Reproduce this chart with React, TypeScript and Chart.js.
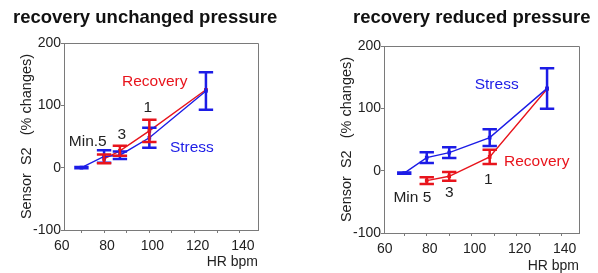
import React, { useEffect, useRef } from 'react';
import { Chart, registerables } from 'chart.js';

Chart.register(...registerables);

const FONT = '"Liberation Sans", Arial, Helvetica, sans-serif';
const BLUE = '#1c1ce6';
const RED = '#e8141c';
const INK = '#222222';
const AXIS = '#7a7a7a';

// ---- Data: left panel (recovery unchanged pressure) ----
const leftTitle = 'recovery unchanged pressure';
const leftStressHR = [70, 80, 87, 100, 125];
const leftStressS2 = [0, 18, 20, 48, 123];
const leftStressErr = [1, 10, 6, 16, 30];
const leftRecoveryHR = [80, 87, 100, 125];
const leftRecoveryS2 = [14, 27, 59, 125];
const leftRecoveryErr = [7, 8, 18, 0];

// ---- Data: right panel (recovery reduced pressure) ----
const rightTitle = 'recovery reduced pressure';
const rightStressHR = [70, 80, 90, 108, 133.5];
const rightStressS2 = [-4, 21, 29, 53, 132];
const rightStressErr = [1, 8.5, 8.5, 13.5, 32.5];
const rightRecoveryHR = [80, 90, 108, 133.5];
const rightRecoveryS2 = [-16, -9, 22, 131];
const rightRecoveryErr = [5.5, 7, 11.5, 0];

// ---- Axes ----
const xTickLabels = [60, 80, 100, 120, 140];
const xTickMarks = [60, 70, 80, 90, 100, 110, 120, 130, 140];
const yTicks = [-100, 0, 100, 200];
const yAxisTitle = 'Sensor  S2   (% changes)';
const xAxisTitle = 'HR bpm';

// ---- Text annotations (anchored in data coordinates) ----
type Note = { text: string; x: number; y: number; color: string };
const leftNotes: Note[] = [
  { text: 'Recovery', x: 102.4, y: 137.5, color: RED },
  { text: 'Stress', x: 118.8, y: 31.6, color: BLUE },
  { text: 'Min.5', x: 72.8, y: 41, color: INK },
  { text: '3', x: 87.8, y: 52.5, color: INK },
  { text: '1', x: 99.3, y: 96, color: INK },
];
const rightNotes: Note[] = [
  { text: 'Stress', x: 111.1, y: 137.3, color: BLUE },
  { text: 'Recovery', x: 128.9, y: 14.4, color: RED },
  { text: '1', x: 107.4, y: -15, color: INK },
  { text: '3', x: 90, y: -34.6, color: INK },
  { text: 'Min 5', x: 73.6, y: -42.6, color: INK },
];

const toPoints = (xs: number[], ys: number[]) => xs.map((x, i) => ({ x, y: ys[i] }));

type PanelCfg = {
  title: string;
  stress: { x: number; y: number }[];
  stressErr: number[];
  recovery: { x: number; y: number }[];
  recoveryErr: number[];
  notes: Note[];
  canvasLeft: number;
  width: number;
  xMin: number;
  xMax: number;
  pad: { left: number; top: number; right: number; bottom: number };
  yAxisWidth: number;
  xAxisHeight: number;
  titleX: number;
  hrPadBottom: number;
};

const panels: PanelCfg[] = [
  {
    title: leftTitle,
    stress: toPoints(leftStressHR, leftStressS2),
    stressErr: leftStressErr,
    recovery: toPoints(leftRecoveryHR, leftRecoveryS2),
    recoveryErr: leftRecoveryErr,
    notes: leftNotes,
    canvasLeft: 0,
    width: 300,
    xMin: 62.3,
    xMax: 148,
    pad: { left: 14, top: 43, right: 42, bottom: 0 },
    yAxisWidth: 50,
    xAxisHeight: 43,
    titleX: 13,
    hrPadBottom: 4,
  },
  {
    title: rightTitle,
    stress: toPoints(rightStressHR, rightStressS2),
    stressErr: rightStressErr,
    recovery: toPoints(rightRecoveryHR, rightRecoveryS2),
    recoveryErr: rightRecoveryErr,
    notes: rightNotes,
    canvasLeft: 300,
    width: 298,
    xMin: 61,
    xMax: 147.7,
    pad: { left: 34, top: 46, right: 19, bottom: 0 },
    yAxisWidth: 50,
    xAxisHeight: 40,
    titleX: 53,
    hrPadBottom: 0,
  },
];

const errorBars = {
  id: 'errorBars',
  afterDatasetsDraw(chart: any) {
    const { ctx, scales } = chart;
    const xs = scales.x;
    const ys = scales.y;
    chart.data.datasets.forEach((ds: any) => {
      if (!ds.errors) return;
      ctx.save();
      ctx.strokeStyle = ds.borderColor;
      ctx.lineWidth = 2.5;
      ds.data.forEach((p: any, j: number) => {
        const e = ds.errors[j];
        if (!e) return;
        const px = xs.getPixelForValue(p.x);
        const top = ys.getPixelForValue(p.y + e);
        const bot = ys.getPixelForValue(p.y - e);
        const hw = 7.2;
        ctx.beginPath();
        ctx.moveTo(px, top);
        ctx.lineTo(px, bot);
        ctx.moveTo(px - hw, top);
        ctx.lineTo(px + hw, top);
        ctx.moveTo(px - hw, bot);
        ctx.lineTo(px + hw, bot);
        ctx.stroke();
      });
      ctx.restore();
    });
  },
};

const frameBox = {
  id: 'frameBox',
  beforeDatasetsDraw(chart: any) {
    const { ctx, chartArea: a } = chart;
    ctx.save();
    ctx.strokeStyle = AXIS;
    ctx.lineWidth = 1;
    ctx.beginPath();
    ctx.moveTo(a.left, a.top + 0.5);
    ctx.lineTo(a.right + 0.5, a.top + 0.5);
    ctx.lineTo(a.right + 0.5, a.bottom);
    ctx.stroke();
    ctx.restore();
  },
};

function makeTexts(cfg: PanelCfg) {
  return {
    id: 'panelTexts',
    afterDraw(chart: any) {
      const { ctx, scales } = chart;
      ctx.save();
      ctx.fillStyle = '#111';
      ctx.font = `bold 18.5px ${FONT}`;
      ctx.textAlign = 'left';
      ctx.textBaseline = 'alphabetic';
      ctx.fillText(cfg.title, cfg.titleX, 23);
      ctx.font = `15.5px ${FONT}`;
      ctx.textAlign = 'center';
      ctx.textBaseline = 'middle';
      cfg.notes.forEach((n) => {
        ctx.fillStyle = n.color;
        ctx.fillText(n.text, scales.x.getPixelForValue(n.x), scales.y.getPixelForValue(n.y));
      });
      ctx.restore();
    },
  };
}

function Panel({ cfg }: { cfg: PanelCfg }) {
  const ref = useRef<HTMLCanvasElement>(null);
  useEffect(() => {
    const chart = new Chart(ref.current as HTMLCanvasElement, {
      type: 'scatter',
      data: {
        datasets: [
          {
            label: 'Stress',
            data: cfg.stress,
            errors: cfg.stressErr,
            showLine: true,
            borderColor: BLUE,
            backgroundColor: BLUE,
            borderWidth: 1.4,
            pointStyle: 'rect',
            pointRadius: 1.6,
          } as any,
          {
            label: 'Recovery',
            data: cfg.recovery,
            errors: cfg.recoveryErr,
            showLine: true,
            borderColor: RED,
            backgroundColor: RED,
            borderWidth: 1.4,
            pointStyle: 'rect',
            pointRadius: 1.6,
          } as any,
        ],
      },
      options: {
        animation: false,
        responsive: false,
        devicePixelRatio: 1,
        layout: { padding: cfg.pad },
        plugins: {
          legend: { display: false },
          tooltip: { enabled: false },
          title: { display: false },
        },
        scales: {
          x: {
            type: 'linear',
            min: cfg.xMin,
            max: cfg.xMax,
            afterBuildTicks: (axis: any) => {
              axis.ticks = xTickMarks.map((v) => ({ value: v }));
            },
            afterFit: (s: any) => {
              s.height = cfg.xAxisHeight;
            },
            ticks: {
              autoSkip: false,
              maxRotation: 0,
              padding: 5,
              labelOffset: 3,
              color: INK,
              font: { family: FONT, size: 14 },
              callback: (v: any) => (xTickLabels.includes(Number(v)) ? String(v) : ''),
            },
            grid: {
              drawOnChartArea: false,
              drawTicks: true,
              tickLength: 3,
              tickColor: (c: any) =>
                c.tick && c.tick.value < cfg.xMin ? 'rgba(0,0,0,0)' : AXIS,
            },
            border: { display: true, color: AXIS, width: 1 },
            title: {
              display: true,
              text: xAxisTitle,
              align: 'end',
              color: INK,
              font: { family: FONT, size: 14, lineHeight: 1 },
              padding: { top: 0, bottom: cfg.hrPadBottom },
            },
          },
          y: {
            type: 'linear',
            min: -100,
            max: 200,
            afterBuildTicks: (axis: any) => {
              axis.ticks = yTicks.map((v) => ({ value: v }));
            },
            afterFit: (s: any) => {
              s.width = cfg.yAxisWidth;
            },
            ticks: {
              padding: 0,
              color: INK,
              font: { family: FONT, size: 14 },
            },
            grid: {
              drawOnChartArea: false,
              drawTicks: true,
              tickLength: 3,
              tickColor: AXIS,
            },
            border: { display: true, color: AXIS, width: 1 },
            title: {
              display: true,
              text: yAxisTitle,
              color: INK,
              font: { family: FONT, size: 14.5 },
              padding: { top: 4, bottom: 0 },
            },
          },
        },
      } as any,
      plugins: [frameBox, errorBars, makeTexts(cfg)],
    });
    return () => chart.destroy();
  }, [cfg]);
  return (
    <canvas
      ref={ref}
      width={cfg.width}
      height={273}
      style={{ position: 'absolute', left: cfg.canvasLeft, top: 0, width: cfg.width, height: 273 }}
    />
  );
}

export default function App() {
  return (
    <div
      style={{
        position: 'fixed',
        left: 0,
        top: 0,
        width: 598,
        height: 273,
        background: '#ffffff',
        overflow: 'hidden',
      }}
    >
      {panels.map((p, i) => (
        <Panel key={i} cfg={p} />
      ))}
    </div>
  );
}
